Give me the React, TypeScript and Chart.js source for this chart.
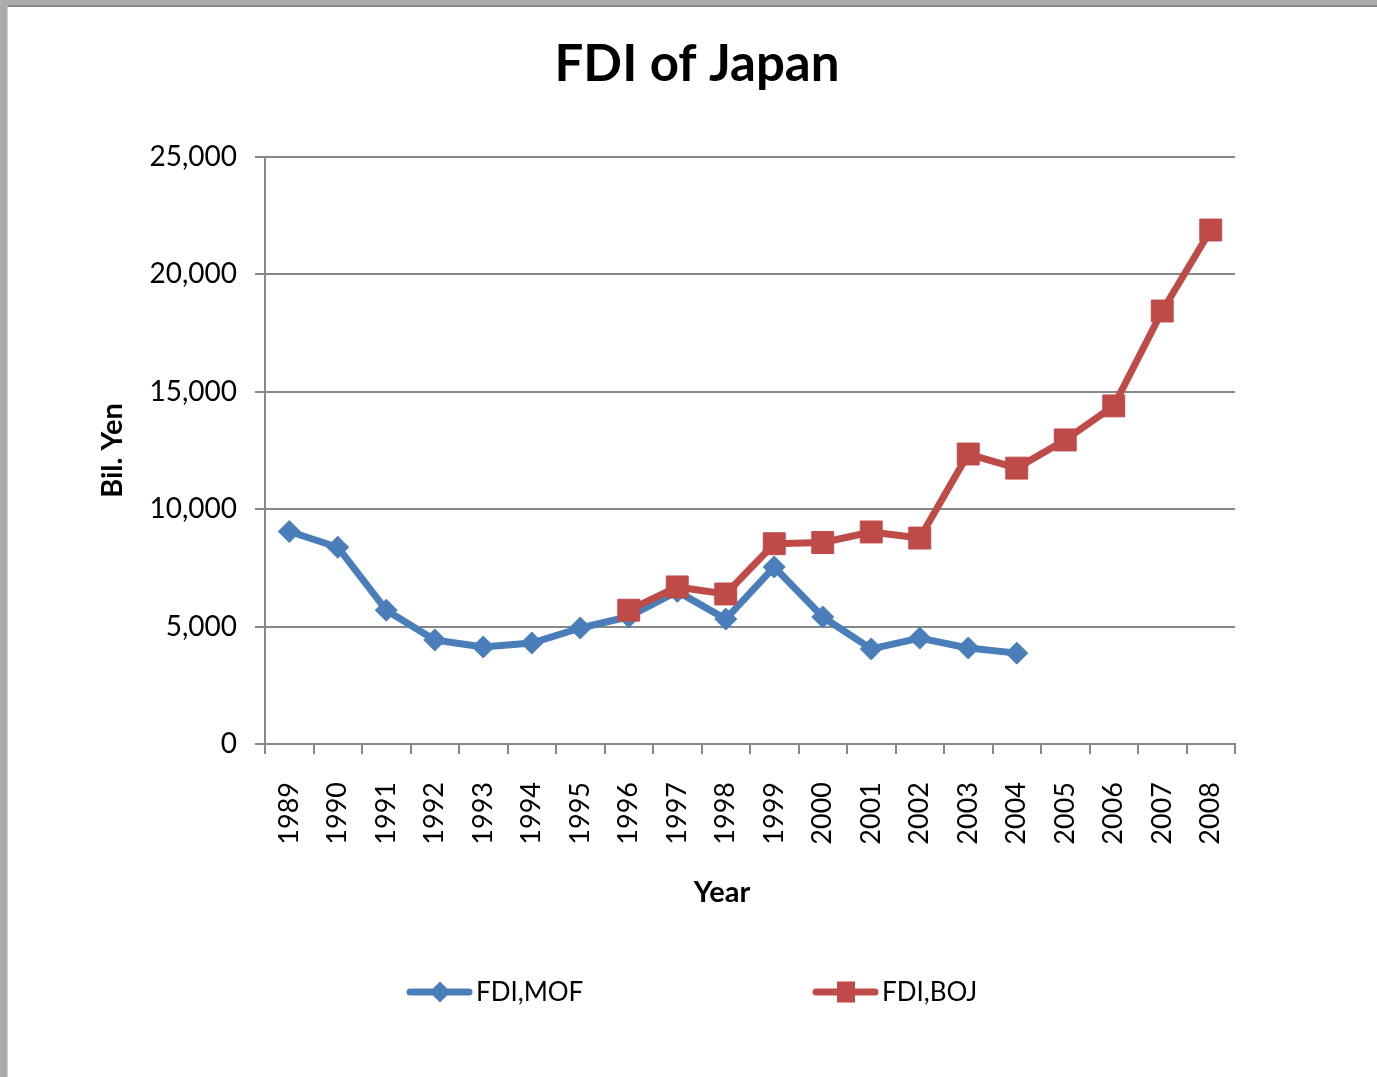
import React, { useEffect, useRef } from "react";
import { Chart, registerables } from "chart.js";

Chart.register(...registerables);

const years = [
  "1989", "1990", "1991", "1992", "1993", "1994", "1995", "1996", "1997", "1998",
  "1999", "2000", "2001", "2002", "2003", "2004", "2005", "2006", "2007", "2008",
];

const fdiMOF: (number | null)[] = [
  9050, 8380, 5700, 4430, 4130, 4300, 4940, 5420, 6500, 5320,
  7540, 5410, 4050, 4510, 4090, 3870, null, null, null, null,
];

const fdiBOJ: (number | null)[] = [
  null, null, null, null, null, null, null, 5700, 6690, 6390,
  8530, 8580, 9030, 8770, 12350, 11750, 12950, 14400, 18440, 21890,
];

const yTicks = [0, 5000, 10000, 15000, 20000, 25000];

const chartTitle = "FDI of Japan";
const xTitle = "Year";
const yTitle = "Bil. Yen";
const seriesNames = ["FDI,MOF", "FDI,BOJ"];

const FONT = "Lato, 'Open Sans', sans-serif";
const BLUE = "#4A7EBB";
const RED = "#BE4B48";
const GRID = "#878787";

const overlayPlugin = {
  id: "overlay",
  afterDraw(chart: any) {
    const ctx = chart.ctx as CanvasRenderingContext2D;
    ctx.save();
    ctx.fillStyle = "#000";
    ctx.textAlign = "center";
    ctx.textBaseline = "middle";
    ctx.font = `bold 51px ${FONT}`;
    ctx.fillText(chartTitle, 697, 65);
    ctx.font = `bold 29px ${FONT}`;
    ctx.fillText(xTitle, 722, 893);

    // legend
    const legendY = 992;
    const starts = [407, 813];
    const styles = [
      { color: BLUE, shape: "diamond" },
      { color: RED, shape: "square" },
    ];
    chart.data.datasets.forEach((ds: any) => {
      const idx = seriesNames.indexOf(ds.label);
      const x0 = starts[idx];
      const st = styles[idx];
      ctx.strokeStyle = st.color;
      ctx.fillStyle = st.color;
      ctx.lineWidth = 7;
      ctx.lineCap = "round";
      ctx.beginPath();
      ctx.moveTo(x0 + 3, legendY);
      ctx.lineTo(x0 + 62, legendY);
      ctx.stroke();
      const cx = x0 + 33;
      ctx.beginPath();
      if (st.shape === "diamond") {
        const r = 10.5;
        ctx.moveTo(cx, legendY - r);
        ctx.lineTo(cx + r, legendY);
        ctx.lineTo(cx, legendY + r);
        ctx.lineTo(cx - r, legendY);
        ctx.closePath();
      } else {
        ctx.rect(cx - 9, legendY - 10.5, 18, 21);
      }
      ctx.fill();
      ctx.fillStyle = "#000";
      ctx.textAlign = "left";
      ctx.font = `26px ${FONT}`;
      ctx.fillText(ds.label, x0 + 69, legendY + 1);
    });
    ctx.restore();
  },
};

export default function App() {
  const canvasRef = useRef<HTMLCanvasElement | null>(null);

  useEffect(() => {
    if (!canvasRef.current) return;
    const chart = new Chart(canvasRef.current, {
      type: "line",
      data: {
        labels: years,
        datasets: [
          {
            label: seriesNames[0],
            data: fdiMOF,
            borderColor: BLUE,
            backgroundColor: BLUE,
            borderWidth: 7,
            borderJoinStyle: "round",
            borderCapStyle: "round",
            pointStyle: "rectRot",
            pointRadius: 11,
            pointBorderWidth: 1,
            pointBackgroundColor: BLUE,
            pointBorderColor: BLUE,
            tension: 0,
            spanGaps: false,
            order: 1,
          },
          {
            label: seriesNames[1],
            data: fdiBOJ,
            borderColor: RED,
            backgroundColor: RED,
            borderWidth: 7,
            borderJoinStyle: "round",
            borderCapStyle: "round",
            pointStyle: "rect",
            pointRadius: 15.5,
            pointBorderWidth: 1,
            pointBackgroundColor: RED,
            pointBorderColor: RED,
            tension: 0,
            spanGaps: false,
            order: 0,
          },
        ],
      },
      options: {
        animation: false,
        responsive: false,
        devicePixelRatio: 1,
        events: [],
        layout: { padding: { top: 157, left: 0, right: 142, bottom: 233 } },
        plugins: {
          legend: { display: false },
          title: { display: false },
          tooltip: { enabled: false },
        },
        scales: {
          x: {
            type: "category",
            offset: true,
            grid: {
              offset: true,
              drawOnChartArea: false,
              drawTicks: true,
              tickLength: 10,
              color: GRID,
              lineWidth: 2,
            },
            border: { color: GRID, width: 2 },
            ticks: {
              minRotation: 90,
              maxRotation: 90,
              autoSkip: false,
              padding: 28,
              color: "#000",
              font: { family: FONT, size: 27 },
            },
            afterFit: (s: any) => {
              s.height = 100;
            },
          },
          y: {
            min: 0,
            max: 25000,
            afterBuildTicks: (s: any) => {
              s.ticks = yTicks.map((v) => ({ value: v }));
            },
            grid: {
              color: GRID,
              lineWidth: 2,
              tickLength: 10,
              drawTicks: true,
            },
            border: { color: GRID, width: 2 },
            ticks: {
              padding: 18,
              color: "#000",
              font: { family: FONT, size: 28 },
              callback: (v: any) => Number(v).toLocaleString("en-US"),
            },
            title: {
              display: true,
              text: yTitle,
              color: "#000",
              font: { family: FONT, size: 29, weight: "bold" },
              padding: { top: 95, bottom: 0 },
            },
            afterFit: (s: any) => {
              s.width = 265;
            },
          },
        },
      },
      plugins: [overlayPlugin],
    } as any);
    return () => chart.destroy();
  }, []);

  return (
    <div
      style={{
        position: "fixed",
        left: 0,
        top: 0,
        width: 1377,
        height: 1077,
        overflow: "hidden",
        background: "#ababab",
      }}
    >
      <div
        style={{
          position: "absolute",
          left: 7,
          top: 5,
          width: 1400,
          height: 1100,
          background: "#fff",
          borderTop: "2px solid #8c8c8c",
          borderLeft: "1px solid #d4d4d4",
        }}
      />
      <canvas
        ref={canvasRef}
        width={1377}
        height={1077}
        style={{ position: "absolute", left: 0, top: 0, width: 1377, height: 1077 }}
      />
    </div>
  );
}
